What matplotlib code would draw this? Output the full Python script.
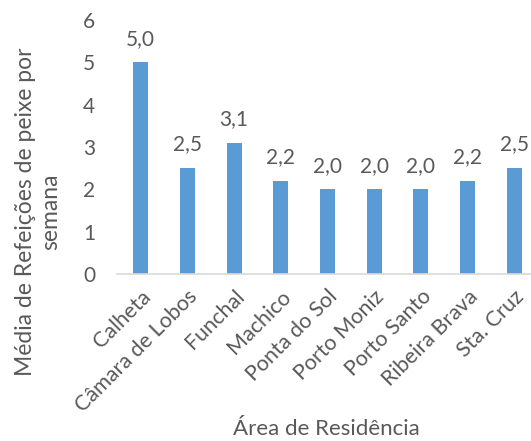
import matplotlib.pyplot as plt
import numpy as np

areas = ["Calheta", "Câmara de Lobos", "Funchal", "Machico", "Ponta do Sol",
         "Porto Moniz", "Porto Santo", "Ribeira Brava", "Sta. Cruz"]
meals = [5.0, 2.5, 3.1, 2.2, 2.0, 2.0, 2.0, 2.2, 2.5]
yticks = [0, 1, 2, 3, 4, 5, 6]

plt.rcParams['font.family'] = ['Lato', 'DejaVu Sans']
grey = "#595959"

fig = plt.figure(figsize=(5.31, 4.41), dpi=100)
ax = fig.add_axes([0.221, 0.379, 0.779, 0.576])

x = np.arange(len(areas))
bars = ax.bar(x, meals, width=0.32, color="#5b9bd5")

for xi, v in zip(x, meals):
    ax.text(xi, v + 0.32, f"{v:.1f}".replace(".", ","), ha="center", va="bottom",
            fontsize=15, color=grey)

ax.set_xlim(-0.5, 8.36)
ax.set_ylim(0, 6)
ax.set_yticks(yticks)
ax.set_yticklabels([str(t) for t in yticks], fontsize=15, color=grey)
ax.set_xticks(x)
ax.set_xticklabels(areas, rotation=45, ha="right", rotation_mode="anchor",
                   fontsize=15.5, color=grey)
ax.tick_params(axis="y", length=0, pad=16)
ax.tick_params(axis="x", length=0, pad=9)

for side in ["top", "right", "left"]:
    ax.spines[side].set_visible(False)
ax.spines["bottom"].set_color("#d9d9d9")
ax.spines["bottom"].set_linewidth(1.2)

# y title sits lower than the axes centre, as two lines
fig.text(0.072, 0.52, "Média de Refeições de peixe por\nsemana", rotation=90,
         ha="center", va="center", multialignment="center",
         fontsize=16.5, color=grey, linespacing=1.25)
fig.text(0.614, 0.014, "Área de Residência", ha="center", va="baseline",
         fontsize=16, color=grey)

fig.savefig("out.png", dpi=100)
